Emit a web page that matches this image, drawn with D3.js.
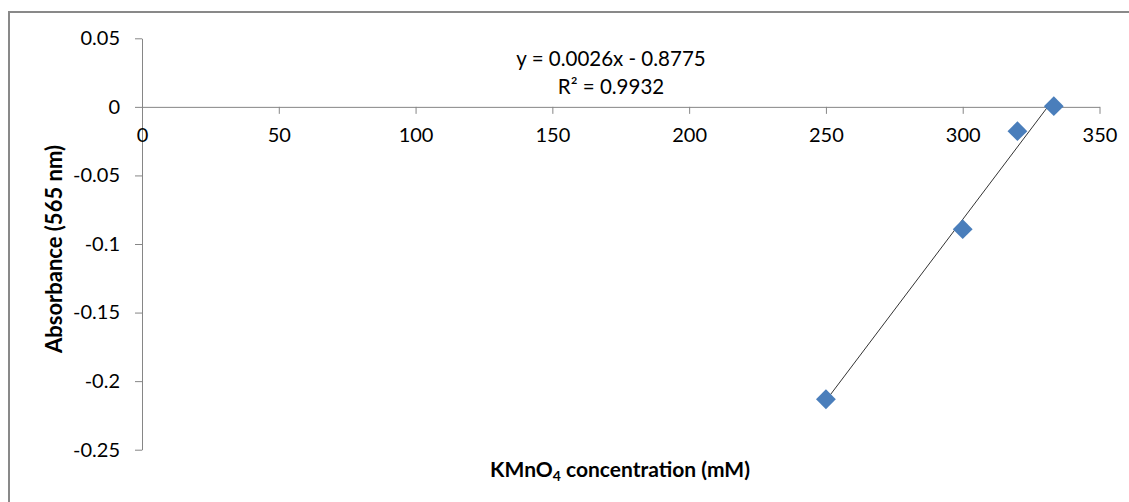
<!DOCTYPE html>
<html>
<head>
<meta charset="utf-8">
<script src="https://cdn.jsdelivr.net/npm/d3@7"></script>
<style>
  html, body { margin: 0; padding: 0; background: #fff; }
  svg { display: block; }
  text { font-family: Lato, "Open Sans", sans-serif; fill: #000; }
</style>
</head>
<body>
<svg id="chart" width="1129" height="502"></svg>
<script>
// ---- data ----
const concentration = [250, 300, 320, 333.3];          // KMnO4 (mM)
const absorbance    = [-0.2132, -0.0892, -0.0177, 0.0005]; // 565 nm
const xTicks = [0, 50, 100, 150, 200, 250, 300, 350];
const yTicks = [0.05, 0, -0.05, -0.1, -0.15, -0.2, -0.25];
const equationLines = ["y = 0.0026x - 0.8775", "R² = 0.9932"];

const svg = d3.select("#chart");
const W = 1129, H = 502;
const axisColor = "#868686";
const FONT = "Lato, 'Open Sans', sans-serif";

// chart frame (top + left edge visible)
svg.append("path")
  .attr("d", `M9,${H} L9,12 L${W},12`)
  .attr("fill", "none").attr("stroke", "#898989").attr("stroke-width", 2);

const x = d3.scaleLinear().domain([0, 350]).range([142, 1099.5]);
const y = d3.scaleLinear().domain([-0.25, 0.05]).range([449.7, 38.3]);

// y axis
const yAxis = svg.append("g")
  .attr("transform", `translate(${x(0)},0)`)
  .call(d3.axisLeft(y).tickValues(yTicks).tickSize(7).tickSizeOuter(0).tickPadding(15)
    .tickFormat(d => d === 0 ? "0" : String(+d.toFixed(2))));
yAxis.select(".domain").attr("stroke", axisColor);
yAxis.selectAll(".tick line").attr("stroke", axisColor);
yAxis.selectAll(".tick text").attr("font-size", 20).attr("fill", "#000")
  .attr("font-family", FONT);

// x axis (crosses at y = 0)
const xAxis = svg.append("g")
  .attr("transform", `translate(0,${y(0)})`)
  .call(d3.axisBottom(x).tickValues(xTicks).tickSize(7).tickSizeOuter(0).tickPadding(14)
    .tickFormat(d3.format("d")));
xAxis.select(".domain").attr("stroke", axisColor);
xAxis.selectAll(".tick line").attr("stroke", axisColor);
xAxis.selectAll(".tick text").attr("font-size", 20).attr("fill", "#000")
  .attr("font-family", FONT);

// linear trendline (least squares from the data)
const n = concentration.length;
const mx = d3.mean(concentration), my = d3.mean(absorbance);
let sxy = 0, sxx = 0;
for (let i = 0; i < n; i++) {
  sxy += (concentration[i] - mx) * (absorbance[i] - my);
  sxx += (concentration[i] - mx) ** 2;
}
const slope = sxy / sxx, intercept = my - slope * mx;
const [x0, x1] = d3.extent(concentration);
svg.append("line")
  .attr("x1", x(x0)).attr("y1", y(slope * x0 + intercept))
  .attr("x2", x(x1)).attr("y2", y(slope * x1 + intercept))
  .attr("stroke", "#333").attr("stroke-width", 1);

// markers (diamonds)
const diamond = d3.symbol().type(d3.symbolSquare).size(196);
svg.append("g").selectAll("path")
  .data(concentration.map((c, i) => [c, absorbance[i]]))
  .join("path")
  .attr("d", diamond)
  .attr("transform", d => `translate(${x(d[0])},${y(d[1])}) rotate(45)`)
  .attr("fill", "#4A7EBB");

// equation label
svg.append("g").selectAll("text")
  .data(equationLines)
  .join("text")
  .attr("x", 611).attr("y", (d, i) => 66 + i * 28)
  .attr("text-anchor", "middle")
  .attr("font-size", 20.5)
  .text(d => d);

// x axis title
const xt = svg.append("text")
  .attr("x", 620).attr("y", 477)
  .attr("text-anchor", "middle")
  .attr("font-size", 21).attr("font-weight", "bold");
xt.append("tspan").text("KMnO");
xt.append("tspan").text("4").attr("font-size", 14).attr("dy", 4);
xt.append("tspan").text(" concentration (mM)").attr("dy", -4);

// y axis title
svg.append("text")
  .attr("transform", "translate(62,249) rotate(-90)")
  .attr("text-anchor", "middle")
  .attr("font-size", 22).attr("font-weight", "bold")
  .text("Absorbance (565 nm)");
</script>
</body>
</html>
